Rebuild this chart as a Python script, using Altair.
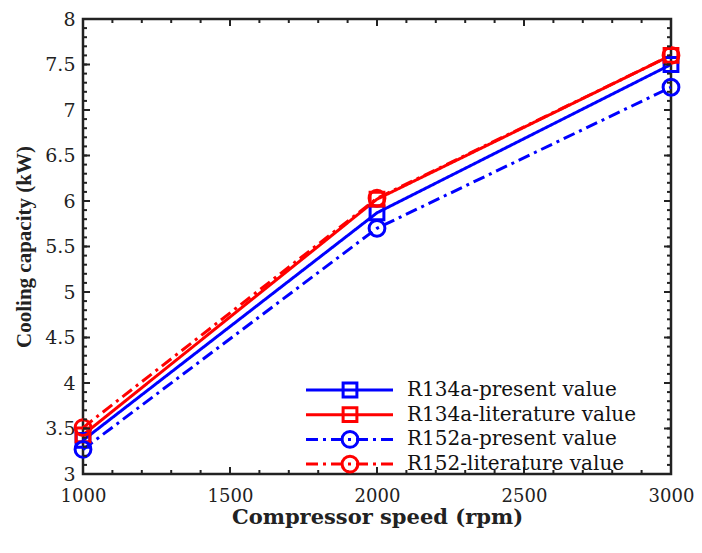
import altair as alt
import pandas as pd

# ---- data ----
speeds = [1000, 2000, 3000]
r134a_present = [3.37, 5.87, 7.50]
r134a_literature = [3.43, 6.02, 7.60]
r152a_present = [3.27, 5.70, 7.25]
r152_literature = [3.51, 6.03, 7.60]

series_names = ["R134a-present value", "R134a-literature value",
                "R152a-present value", "R152-literature value"]
series_values = [r134a_present, r134a_literature, r152a_present, r152_literature]
series_colors = ["#0000FF", "#FF0000", "#0000FF", "#FF0000"]
series_shapes = ["square", "square", "circle", "circle"]
series_dash = [[1, 0], [1, 0], [12, 5, 3, 5], [12, 5, 3, 5]]

x_ticks = [1000, 1500, 2000, 2500, 3000]
y_ticks = [3, 3.5, 4, 4.5, 5, 5.5, 6, 6.5, 7, 7.5, 8]
x_minor = [1000 + 100 * i for i in range(21)]
y_minor = [round(3 + 0.1 * i, 1) for i in range(51)]

W, H = 588, 455
PAD_L, PAD_T = 75, 11

rows = []
for name, vals in zip(series_names, series_values):
    for s, v in zip(speeds, vals):
        rows.append({"speed": s, "cap": v, "series": name})
df = pd.DataFrame(rows)

xscale = alt.Scale(domain=[1000, 3000], nice=False, zero=False)
yscale = alt.Scale(domain=[3, 8], nice=False, zero=False)

xaxis = alt.Axis(values=x_ticks, format="d", title="Compressor speed (rpm)", domain=False,
                 ticks=False, grid=False, labelFont="DejaVu Serif", labelFontSize=18,
                 labelColor="#222", labelPadding=13, titleFont="DejaVu Serif",
                 titleFontWeight="bold", titleFontSize=21, titleColor="#222", titlePadding=1,
                 labelFlush=False)
yaxis = alt.Axis(values=y_ticks, format="~g", title="Cooling capacity (kW)", domain=False,
                 ticks=False, grid=False, labelFont="DejaVu Serif", labelFontSize=19,
                 labelColor="#222", labelPadding=8, titleFont="Liberation Serif",
                 titleFontWeight="bold", titleFontSize=21, titleColor="#222", titlePadding=10,
                 labelFlush=False)

X = lambda f: alt.X(f, scale=xscale, axis=xaxis)
Y = lambda f: alt.Y(f, scale=yscale, axis=yaxis)

layers = []
for name, color, shape, dash in zip(series_names, series_colors, series_shapes, series_dash):
    sub = df[df.series == name]
    layers.append(
        alt.Chart(sub).mark_line(color=color, strokeWidth=3, strokeDash=dash).encode(
            x=X("speed:Q"), y=Y("cap:Q"))
    )
for name, color, shape, dash in zip(series_names, series_colors, series_shapes, series_dash):
    sub = df[df.series == name]
    layers.append(
        alt.Chart(sub).mark_point(color=color, shape=shape, filled=False, strokeWidth=3,
                                  size=190 if shape == "square" else 250, opacity=1).encode(
            x=X("speed:Q"), y=Y("cap:Q"))
    )

# inward ticks on all four sides
def yticks(vals, length):
    d = pd.DataFrame({"v": vals})
    left = alt.Chart(d).mark_rule(color="#222", strokeWidth=2).encode(
        y=Y("v:Q"), x=alt.value(0), x2=alt.value(length))
    right = alt.Chart(d).mark_rule(color="#222", strokeWidth=2).encode(
        y=Y("v:Q"), x=alt.value(W - length), x2=alt.value(W))
    return [left, right]

def xticks(vals, length):
    d = pd.DataFrame({"v": vals})
    bottom = alt.Chart(d).mark_rule(color="#222", strokeWidth=2).encode(
        x=X("v:Q"), y=alt.value(H - length), y2=alt.value(H))
    top = alt.Chart(d).mark_rule(color="#222", strokeWidth=2).encode(
        x=X("v:Q"), y=alt.value(0), y2=alt.value(length))
    return [bottom, top]

layers += yticks(y_minor, 4) + yticks(y_ticks, 7) + xticks(x_minor, 4) + xticks(x_ticks, 7)

# legend
leg_x0, leg_x1, leg_mx, leg_tx = 223, 310, 267, 324
leg_y0, leg_dy = 371, 24.7
for i, (name, color, shape, dash) in enumerate(zip(series_names, series_colors, series_shapes, series_dash)):
    yy = leg_y0 + i * leg_dy
    d = pd.DataFrame({"label": [name]})
    layers.append(alt.Chart(d).mark_rule(color=color, strokeWidth=3, strokeDash=dash).encode(
        x=alt.value(leg_x0), x2=alt.value(leg_x1), y=alt.value(yy)))
    layers.append(alt.Chart(d).mark_point(color=color, shape=shape, filled=False, strokeWidth=3,
                                          size=190 if shape == "square" else 250, opacity=1).encode(
        x=alt.value(leg_mx), y=alt.value(yy)))
    layers.append(alt.Chart(d).mark_text(align="left", baseline="middle", font="DejaVu Serif",
                                         fontSize=20, color="#111").encode(
        x=alt.value(leg_tx), y=alt.value(yy), text=alt.Text("label:N")))

chart = alt.layer(*layers).properties(
    width=W, height=H,
    autosize=alt.AutoSizeParams(type="none"),
    padding={"left": PAD_L, "top": PAD_T, "right": 686 - PAD_L - W, "bottom": 537 - PAD_T - H},
    background="white",
).configure_view(stroke="#222", strokeWidth=2.5)

chart.save("out.html", embed_options={"renderer": "svg", "actions": False})
